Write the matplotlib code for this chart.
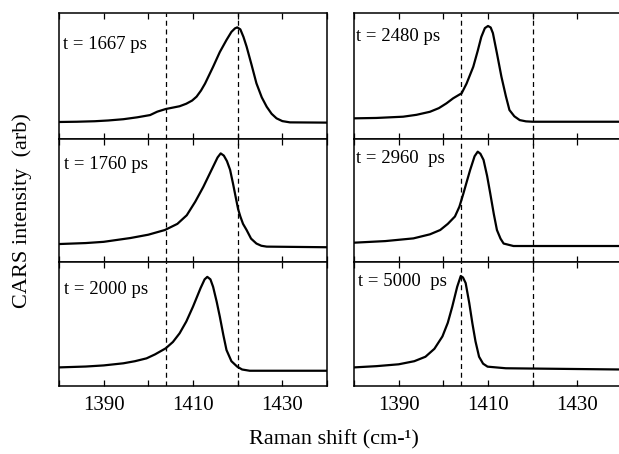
import numpy as np
import matplotlib.pyplot as plt

plt.rcParams['font.family'] = ['Liberation Serif', 'DejaVu Serif']

# time labels, left column top->bottom then right column
labels = ["t = 1667 ps", "t = 1760 ps", "t = 2000 ps",
          "t = 2480 ps", "t = 2960  ps", "t = 5000  ps"]
dashed = [1404, 1420]
xticks_major = [1390, 1410, 1430]
xticks_minor = [1380, 1400, 1420, 1440]

# spectra (Raman shift, arb. intensity)
x_1667 = [1380, 1384, 1388, 1391, 1394.4, 1397.5, 1400.4, 1402, 1403.9, 1405.6, 1407, 1408.5, 1409.8, 1410.8,
          1411.8, 1412.7, 1414.5, 1416, 1417.5, 1418.6, 1419.4, 1419.9, 1420.6, 1421.3, 1422, 1423.1, 1424.2,
          1425.4, 1426.5, 1427.6, 1428.7, 1430, 1431.7, 1440]
y_1667 = [0.135, 0.137, 0.141, 0.147, 0.157, 0.172, 0.19, 0.217, 0.238, 0.25, 0.26, 0.28, 0.305, 0.336,
          0.385, 0.44, 0.573, 0.69, 0.786, 0.85, 0.878, 0.886, 0.87, 0.81, 0.733, 0.59, 0.442,
          0.33, 0.256, 0.2, 0.164, 0.142, 0.132, 0.13]

x_1760 = [1380, 1386, 1390, 1392.9, 1396, 1400, 1403.7, 1406.5, 1408.6, 1410.5, 1412.3, 1414.3, 1415.5,
          1416.2, 1416.9, 1417.6, 1418.3, 1419, 1419.6, 1420.1, 1420.6, 1421.2, 1422, 1423, 1424.2, 1425.3,
          1426.5, 1440]
y_1760 = [0.146, 0.154, 0.164, 0.179, 0.195, 0.222, 0.26, 0.31, 0.38, 0.49, 0.61, 0.76, 0.85,
          0.883, 0.865, 0.82, 0.75, 0.63, 0.52, 0.43, 0.37, 0.31, 0.26, 0.19, 0.15, 0.132,
          0.125, 0.12]

x_2000 = [1380, 1386, 1390, 1394.4, 1397, 1399.6, 1401.5, 1403.9, 1405.5, 1407, 1408.5, 1410, 1411.7,
          1412.6, 1413.2, 1413.9, 1414.5, 1415.3, 1416, 1416.8, 1417.5, 1418.6, 1419.9, 1421, 1422.7, 1440]
y_2000 = [0.15, 0.157, 0.166, 0.183, 0.2, 0.223, 0.255, 0.304, 0.355, 0.425, 0.52, 0.64, 0.79,
          0.86, 0.88, 0.86, 0.8, 0.68, 0.56, 0.41, 0.29, 0.2, 0.156, 0.133, 0.123, 0.123]

x_2480 = [1380, 1385, 1391, 1394, 1397, 1399, 1400.7, 1402.2, 1404.1, 1405.2, 1406.7, 1407.7, 1408.5, 1409.3,
          1410, 1410.6, 1411.1, 1412, 1413, 1414, 1414.8, 1415.9, 1417.1, 1418.5, 1420, 1440]
y_2480 = [0.164, 0.167, 0.177, 0.192, 0.216, 0.245, 0.283, 0.323, 0.363, 0.44, 0.573, 0.7, 0.81, 0.88,
          0.897, 0.885, 0.84, 0.68, 0.495, 0.34, 0.23, 0.18, 0.15, 0.14, 0.137, 0.137]

x_2960 = [1380, 1387, 1393.3, 1397, 1399.3, 1401, 1402.6, 1403.6, 1404.5, 1405.3, 1406, 1407, 1407.7,
          1408.3, 1409, 1409.8, 1410.5, 1411.3, 1412, 1412.8, 1413.5, 1415.7, 1440]
y_2960 = [0.157, 0.17, 0.192, 0.225, 0.26, 0.31, 0.37, 0.45, 0.558, 0.66, 0.748, 0.86, 0.897,
          0.88, 0.83, 0.7, 0.558, 0.39, 0.26, 0.19, 0.15, 0.13, 0.13]

x_5000 = [1380, 1385, 1390, 1393.5, 1396, 1398, 1399.8, 1401, 1402, 1403.1, 1403.9, 1404.4, 1405, 1405.8,
          1406.5, 1407.2, 1408, 1408.9, 1409.9, 1414, 1440]
y_5000 = [0.15, 0.16, 0.175, 0.2, 0.236, 0.3, 0.4, 0.51, 0.64, 0.8, 0.887, 0.875, 0.83, 0.67,
          0.506, 0.36, 0.236, 0.18, 0.156, 0.143, 0.133]

spectra = [(x_1667, y_1667), (x_1760, y_1760), (x_2000, y_2000),
           (x_2480, y_2480), (x_2960, y_2960), (x_5000, y_5000)]
label_pos = [(0.015, 0.75), (0.02, 0.79), (0.02, 0.78),
             (0.008, 0.81), (0.008, 0.845), (0.015, 0.84)]

W, H = 619, 454
fig = plt.figure(figsize=(W / 100, H / 100), dpi=100)

col_left = [59, 354]
col_width = 268
row_edges = [13, 139, 262, 386]

for i, (xs, ys) in enumerate(spectra):
    col, row = divmod(i, 3)
    top, bot = row_edges[row], row_edges[row + 1]
    ax = fig.add_axes([col_left[col] / W, 1 - bot / H, col_width / W, (bot - top) / H])
    ax.plot(xs, ys, color='black', lw=1.6, solid_joinstyle='round')
    for d in dashed:
        ax.axvline(d, color='black', lw=0.9, ls=(0, (4, 3)))
    ax.set_xlim(1380, 1440)
    ax.set_ylim(0, 1)
    ax.set_yticks([])
    ax.set_xticks(xticks_major)
    ax.set_xticks(xticks_minor, minor=True)
    ax.tick_params(axis='x', which='both', direction='in', top=True, length=4, width=0.9)
    ax.tick_params(axis='x', labelsize=15, pad=7)
    if row < 2:
        ax.tick_params(axis='x', labelbottom=False)
    for s in ax.spines.values():
        s.set_linewidth(1.1)
    tx, ty = label_pos[i]
    ax.text(tx, ty, labels[i], transform=ax.transAxes, ha='left', va='center', fontsize=13.5)

fig.text(334 / W, 1 - 440 / H, "Raman shift (cm-\u00b9)", ha='center', va='center', fontsize=16)
fig.text(22 / W, 1 - 211 / H, "CARS intensity  (arb)", ha='center', va='center',
         rotation=90, fontsize=16)

fig.savefig('out.png', dpi=100)
